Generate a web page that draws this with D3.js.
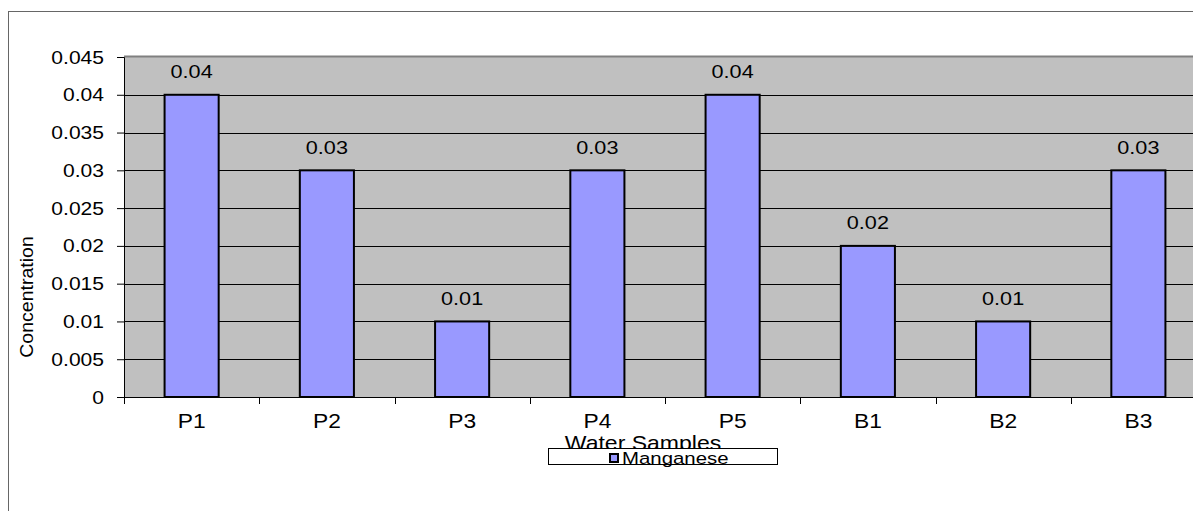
<!DOCTYPE html>
<html>
<head>
<meta charset="utf-8">
<script src="https://cdn.jsdelivr.net/npm/d3@7"></script>
<style>
  html, body { margin: 0; padding: 0; background: #fff; }
  svg { display: block; font-family: "Liberation Sans", Arial, sans-serif; }
</style>
</head>
<body>
<svg id="chart" width="1193" height="511"></svg>
<script>
// Manganese concentration per water sample
const samples = ["P1", "P2", "P3", "P4", "P5", "B1", "B2", "B3"];
const manganese = [0.04, 0.03, 0.01, 0.03, 0.04, 0.02, 0.01, 0.03];
const yTicks = [0, 0.005, 0.01, 0.015, 0.02, 0.025, 0.03, 0.035, 0.04, 0.045];
const seriesName = "Manganese";
const xTitle = "Water Samples";
const yTitle = "Concentration";

const svg = d3.select("#chart");

// text drawn with a slightly widened face
function label(parent, x, y, str, opts) {
  const o = Object.assign({ size: 18, sx: 1.16, anchor: "start", rotate: 0 }, opts);
  return parent.append("text")
    .attr("transform", `translate(${x},${y})` + (o.rotate ? ` rotate(${o.rotate})` : "") + ` scale(${o.sx},1)`)
    .attr("text-anchor", o.anchor)
    .attr("font-size", o.size)
    .attr("fill", "#000")
    .text(str);
}

// chart frame
svg.append("rect")
  .attr("x", 8.5).attr("y", 11.5)
  .attr("width", 1300).attr("height", 600)
  .attr("fill", "#fff").attr("stroke", "#666").attr("stroke-width", 1);

const plot = { left: 124, top: 57, right: 1206, bottom: 397 };

const x = d3.scaleBand()
  .domain(samples)
  .range([plot.left, plot.right])
  .paddingInner(0.6)
  .paddingOuter(0.3);

const y = d3.scaleLinear()
  .domain([0, 0.045])
  .range([plot.bottom, plot.top]);

// plot background
svg.append("rect")
  .attr("x", plot.left).attr("y", plot.top)
  .attr("width", plot.right - plot.left).attr("height", plot.bottom - plot.top)
  .attr("fill", "#c0c0c0");

// gridlines
svg.append("g")
  .selectAll("line")
  .data(yTicks.filter(d => d > 0 && d < 0.045))
  .join("line")
  .attr("x1", plot.left).attr("x2", plot.right)
  .attr("y1", d => Math.round(y(d)) + 0.5).attr("y2", d => Math.round(y(d)) + 0.5)
  .attr("stroke", "#000").attr("stroke-width", 1);

// top edge of plot area
svg.append("line")
  .attr("x1", plot.left).attr("x2", plot.right)
  .attr("y1", plot.top - 0.5).attr("y2", plot.top - 0.5)
  .attr("stroke", "#808080").attr("stroke-width", 2);

const rows = samples.map((s, i) => ({ s, v: manganese[i] }));

// bars
svg.append("g")
  .selectAll("rect")
  .data(rows)
  .join("rect")
  .attr("x", d => x(d.s))
  .attr("y", d => y(d.v))
  .attr("width", x.bandwidth())
  .attr("height", d => y(0) - y(d.v))
  .attr("fill", "#9999ff")
  .attr("stroke", "#000")
  .attr("stroke-width", 2);

// value labels
const valG = svg.append("g");
rows.forEach(d => {
  label(valG, x(d.s) + x.bandwidth() / 2, y(d.v) - 16.5, d3.format("")(d.v),
    { size: 18.5, sx: 1.17, anchor: "middle" });
});

// y axis
const yAxis = svg.append("g")
  .attr("transform", `translate(${plot.left},0)`)
  .call(d3.axisLeft(y).tickValues(yTicks).tickSize(7).tickFormat(() => ""));
yAxis.select(".domain").attr("stroke", "#000");
yAxis.selectAll(".tick line").attr("stroke", "#000");
const yLab = svg.append("g");
yTicks.forEach(t => {
  label(yLab, 104, y(t) + 6.5, d3.format("")(+t.toFixed(3)), { size: 18, sx: 1.17, anchor: "end" });
});

// x axis with ticks between categories
const xAxisG = svg.append("g")
  .attr("transform", `translate(0,${plot.bottom})`);
xAxisG.append("line")
  .attr("x1", plot.left).attr("x2", plot.right)
  .attr("y1", 0.5).attr("y2", 0.5)
  .attr("stroke", "#000");
const step = x.step();
xAxisG.selectAll(".sep")
  .data(d3.range(samples.length + 1))
  .join("line")
  .attr("class", "sep")
  .attr("x1", i => Math.round(plot.left + i * step) + 0.5)
  .attr("x2", i => Math.round(plot.left + i * step) + 0.5)
  .attr("y1", 0).attr("y2", 7)
  .attr("stroke", "#000");
samples.forEach(s => {
  label(xAxisG, x(s) + x.bandwidth() / 2, 31, s, { size: 20, sx: 1.14, anchor: "middle" });
});

// axis titles (the legend box sits over the lower part of the x title)
label(svg, 643, 450, xTitle, { size: 20, sx: 1.15, anchor: "middle" });
label(svg, 33, 297, yTitle, { size: 18.6, sx: 1.05, anchor: "middle", rotate: -90 });

// legend
const legend = svg.append("g");
legend.append("rect")
  .attr("x", 548.5).attr("y", 448.5)
  .attr("width", 229).attr("height", 16)
  .attr("fill", "#fff").attr("stroke", "#000");
legend.append("rect")
  .attr("x", 610).attr("y", 454)
  .attr("width", 8).attr("height", 8)
  .attr("fill", "#9999ff").attr("stroke", "#000").attr("stroke-width", 2);
label(legend, 622, 463.5, seriesName, { size: 17, sx: 1.2 });
</script>
</body>
</html>
